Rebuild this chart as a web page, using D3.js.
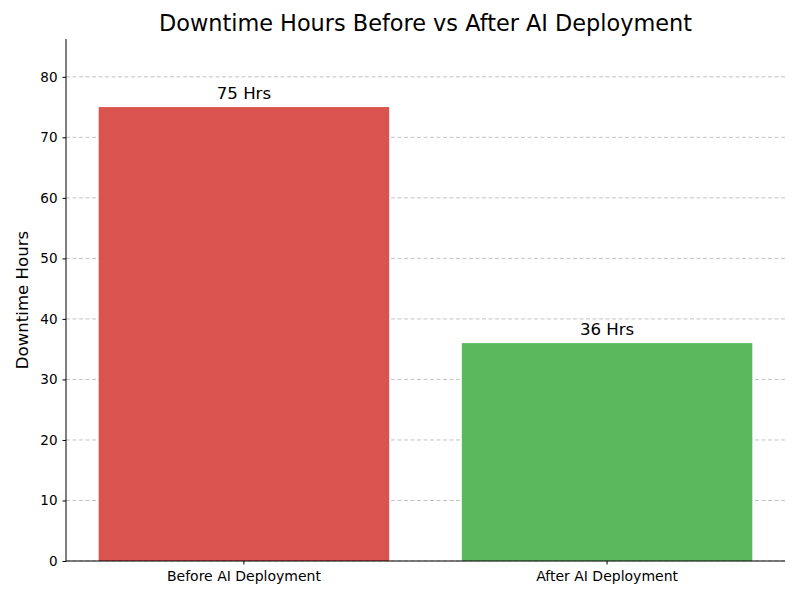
<!DOCTYPE html>
<html>
<head>
<meta charset="utf-8">
<script src="https://cdn.jsdelivr.net/npm/d3@7"></script>
<style>
  body { margin: 0; background: #fff; }
  text { font-family: "DejaVu Sans", sans-serif; }
</style>
</head>
<body>
<svg width="800" height="600"></svg>
<script>
  const categories = ['Before AI Deployment', 'After AI Deployment'];
  const hours = [75, 36];
  const barLabels = ['75 Hrs', '36 Hrs'];
  const barColors = ['#d9534f', '#5cb85c'];
  const yTicks = [0, 10, 20, 30, 40, 50, 60, 70, 80];

  const titleText = 'Downtime Hours Before vs After AI Deployment';
  const yAxisLabelText = 'Downtime Hours';

  const svg = d3.select('svg');
  const margin = { top: 39, right: 15, bottom: 39, left: 66 };
  const width = +svg.attr('width');
  const height = +svg.attr('height');
  const innerWidth = width - margin.left - margin.right;
  const innerHeight = height - margin.top - margin.bottom;

  const g = svg.append('g')
    .attr('transform', `translate(${margin.left},${margin.top})`);

  const xScale = d3.scaleBand()
    .domain(categories)
    .range([0, innerWidth])
    .paddingInner(0.2)
    .paddingOuter(0.09);

  const yScale = d3.scaleLinear()
    .domain([0, d3.max(hours) * 1.15])
    .range([innerHeight, 0]);

  // grid lines
  g.append('g')
    .selectAll('line').data(yTicks)
    .enter().append('line')
      .attr('x1', 0)
      .attr('x2', innerWidth)
      .attr('y1', d => yScale(d))
      .attr('y2', d => yScale(d))
      .attr('stroke', '#c4c4c4')
      .attr('stroke-width', 1)
      .attr('stroke-dasharray', '4,2.5');

  g.selectAll('rect').data(hours)
    .enter().append('rect')
      .attr('x', (d, i) => xScale(categories[i]))
      .attr('y', d => yScale(d))
      .attr('width', xScale.bandwidth())
      .attr('height', d => innerHeight - yScale(d))
      .attr('fill', (d, i) => barColors[i]);

  g.selectAll('.bar-label').data(hours)
    .enter().append('text')
      .attr('class', 'bar-label')
      .attr('x', (d, i) => xScale(categories[i]) + xScale.bandwidth() / 2)
      .attr('y', d => yScale(d) - 8)
      .attr('text-anchor', 'middle')
      .attr('font-size', '16.6px')
      .attr('fill', '#000')
      .text((d, i) => barLabels[i]);

  const yAxis = d3.axisLeft(yScale)
    .tickValues(yTicks)
    .tickSize(3.5)
    .tickPadding(5);

  const yAxisG = g.append('g').call(yAxis);
  yAxisG.selectAll('text').attr('font-size', '13.5px').attr('fill', '#000')
    .style('font-family', '"DejaVu Sans", sans-serif');
  yAxisG.select('.domain').attr('stroke', '#000').attr('d', `M0,0V${innerHeight}`);

  const xAxisG = g.append('g')
    .attr('transform', `translate(0,${innerHeight})`)
    .call(d3.axisBottom(xScale).tickSize(3.5).tickPadding(7));
  xAxisG.selectAll('text').attr('font-size', '14px').attr('fill', '#000')
    .style('font-family', '"DejaVu Sans", sans-serif');
  xAxisG.select('.domain').attr('stroke', '#000').attr('d', `M0,0H${innerWidth}`);

  svg.append('text')
    .attr('x', margin.left + innerWidth / 2)
    .attr('y', 31)
    .attr('text-anchor', 'middle')
    .attr('font-size', '22.4px')
    .attr('fill', '#000')
    .text(titleText);

  svg.append('text')
    .attr('transform', `translate(28,${margin.top + innerHeight / 2}) rotate(-90)`)
    .attr('text-anchor', 'middle')
    .attr('font-size', '16.6px')
    .attr('fill', '#000')
    .text(yAxisLabelText);
</script>
</body>
</html>
